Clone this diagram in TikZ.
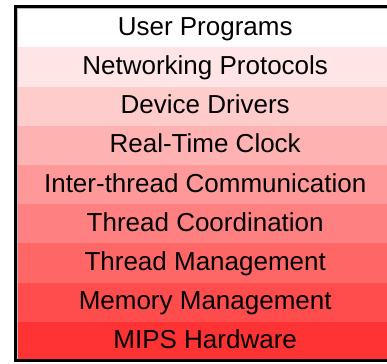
\documentclass[tikz,border=0pt]{standalone}
\usepackage{fontspec}
\setmainfont{Liberation Sans}
\begin{document}
\begin{tikzpicture}[x=1pt, y=-1pt,
  layer/.style={anchor=north west, inner sep=0pt, minimum width=376pt,
    minimum height=39.2pt, text height=17pt, text depth=2pt,
    font=\fontsize{26}{30}\selectfont}]
  % 全体の大きさ (右端は切れている)
  \useasboundingbox (0,0) rectangle (387,363);
  \clip (0,0) rectangle (387,363);

  % 各層 (上から順に, 下へ行くほど赤くなる)
  \foreach \i/\name in {1/User Programs, 2/Networking Protocols,
      3/Device Drivers, 4/Real-Time Clock, 5/Inter-thread Communication,
      6/Thread Coordination, 7/Thread Management, 8/Memory Management,
      9/MIPS Hardware} {
    \pgfmathtruncatemacro{\p}{10*(\i-1)}
    \node[layer, fill=red!\p] (layer\i) at (17, {8+39.2*(\i-1)}) {\name};
  }

  % 枠線
  \draw[gray!55, line width=1pt] (17.5,360) |- (395,8.5);
  \draw[line width=3pt] (15.5,6.5) rectangle (395,360.8);
\end{tikzpicture}
\end{document}
